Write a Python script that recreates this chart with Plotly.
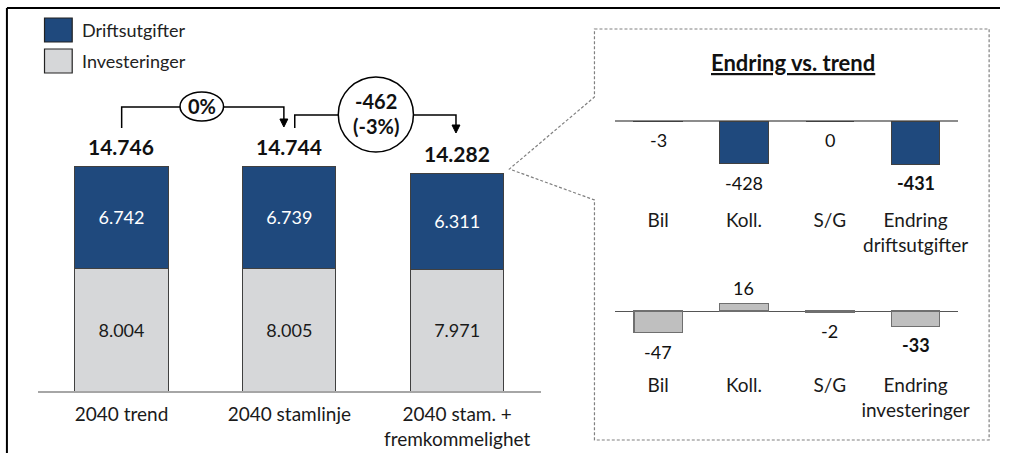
import plotly.graph_objects as go

W, H = 1011, 453

# hovedfigur
categories = ["2040 trend", "2040 stamlinje", "2040 stam. +<br>fremkommelighet"]
drift = [6742, 6739, 6311]
invest = [8004, 8005, 7971]

# endring vs. trend
drift_cats = ["Bil", "Koll.", "S/G", "Endring<br>driftsutgifter"]
drift_change = [-3, -428, 0, -431]
inv_cats = ["Bil", "Koll.", "S/G", "Endring<br>investeringer"]
inv_change = [-47, 16, -2, -33]

BLUE = "#1F497D"
LIGHT = "#D6D7D9"
MID = "#BFBFBF"
FONT = "Lato"


def px(x):
    return x / W


def py(y):
    return 1 - y / H


def nok(v):
    return f"{v:,}".replace(",", ".")


totals = [d + i for d, i in zip(drift, invest)]

fig = go.Figure()

# Stablede søyler
fig.add_trace(go.Bar(
    x=categories, y=invest, name="Investeringer",
    marker=dict(color=LIGHT, line=dict(color="#404040", width=1)),
    width=0.555, texttemplate="%{y:,.0f}", textposition="inside",
    insidetextanchor="middle", textangle=0,
    textfont=dict(family=FONT, size=18, color="#1a1a1a"),
    xaxis="x", yaxis="y"
))
fig.add_trace(go.Bar(
    x=categories, y=drift, name="Driftsutgifter",
    marker=dict(color=BLUE, line=dict(color="#404040", width=1)),
    width=0.555, texttemplate="%{y:,.0f}", textposition="inside",
    insidetextanchor="middle", textangle=0,
    textfont=dict(family=FONT, size=18, color="white"),
    xaxis="x", yaxis="y"
))

# Endringer driftsutgifter
fig.add_trace(go.Bar(
    x=drift_cats, y=drift_change,
    marker=dict(color=BLUE, line=dict(color="#404040", width=1)),
    width=0.565, xaxis="x2", yaxis="y2"
))
# Endringer investeringer
fig.add_trace(go.Bar(
    x=inv_cats, y=inv_change,
    marker=dict(color=MID, line=dict(color="#6f6f6f", width=1.3)),
    width=0.565, xaxis="x3", yaxis="y3"
))

annotations = []

# Totaler over søylene
for c, t in zip(categories, totals):
    annotations.append(dict(
        x=c, y=t, xref="x", yref="y", text=f"<b>{nok(t)}</b>",
        showarrow=False, yanchor="bottom", yshift=5,
        font=dict(family=FONT, size=21, color="#111111")
    ))

# Verdier for små søyler
for cats, vals, ax in [(drift_cats, drift_change, "2"), (inv_cats, inv_change, "3")]:
    for k, (c, v) in enumerate(zip(cats, vals)):
        txt = nok(v)
        if k == len(cats) - 1:
            txt = f"<b>{txt}</b>"
        annotations.append(dict(
            x=c, y=v, xref="x" + ax, yref="y" + ax, text=txt, showarrow=False,
            yanchor="bottom" if v > 0 else "top",
            yshift=3 if v > 0 else -6,
            font=dict(family=FONT, size=18, color="#111111")
        ))

# Sammenligning mellom søylene
pct1 = round((totals[1] - totals[0]) / totals[0] * 100)
diff2 = totals[2] - totals[1]
pct2 = round(diff2 / totals[1] * 100)

annotations += [
    dict(x=px(204), y=py(106), text=f"<b>{pct1}%</b>"),
    dict(x=px(380), y=py(101), text=f"<b>{nok(diff2)}</b>"),
    dict(x=px(380), y=py(126), text=f"<b>({pct2}%)</b>"),
]
for a in annotations[-3:]:
    a.update(xref="paper", yref="paper", showarrow=False,
             xanchor="center", yanchor="middle",
             font=dict(family=FONT, size=20, color="#111111"))

# Tittel og legend
annotations += [
    dict(x=px(802), y=py(62), xref="paper", yref="paper", showarrow=False,
         xanchor="center", yanchor="middle",
         text="<b><u>Endring vs. trend</u></b>",
         font=dict(family=FONT, size=22, color="#111111")),
    dict(x=px(81), y=py(30), xref="paper", yref="paper", showarrow=False,
         xanchor="left", yanchor="middle", text="Driftsutgifter",
         font=dict(family=FONT, size=18, color="#222222")),
    dict(x=px(81), y=py(61), xref="paper", yref="paper", showarrow=False,
         xanchor="left", yanchor="middle", text="Investeringer",
         font=dict(family=FONT, size=18, color="#222222")),
]

line_k = dict(color="black", width=1.5)


def path(points, close=False):
    s = "M " + " L ".join(f"{px(x)},{py(y)}" for x, y in points)
    return s + (" Z" if close else "")


shapes = [
    # ramme
    dict(type="line", x0=px(7), x1=px(7), y0=py(8), y1=py(453),
         line=dict(color="black", width=2)),
    dict(type="line", x0=px(7), x1=px(1011), y0=py(8), y1=py(8),
         line=dict(color="black", width=2)),
    # legend
    dict(type="rect", x0=px(45), x1=px(73), y0=py(18), y1=py(42),
         fillcolor=BLUE, line=dict(color="#222222", width=1.2)),
    dict(type="rect", x0=px(45), x1=px(73), y0=py(49), y1=py(73),
         fillcolor=LIGHT, line=dict(color="#222222", width=1.2)),
    # piler
    dict(type="path", path=path([(123, 128), (123, 107), (287, 107), (287, 120)]),
         line=line_k),
    dict(type="path", path=path([(283, 119), (291, 119), (287, 127)], True),
         fillcolor="black", line=dict(color="black", width=1)),
    dict(type="path", path=path([(298, 128), (298, 115), (461, 115), (461, 126)]),
         line=line_k),
    dict(type="path", path=path([(457, 125), (465, 125), (461, 133)], True),
         fillcolor="black", line=dict(color="black", width=1)),
    dict(type="circle", x0=px(182), x1=px(226), y0=py(92), y1=py(121),
         fillcolor="white", line=line_k),
    dict(type="circle", x0=px(342), x1=px(418), y0=py(77), y1=py(152),
         fillcolor="white", line=line_k),
    # utsnittsboks
    dict(type="path",
         path=path([(601, 29), (1000, 29), (1000, 440), (601, 440), (601, 200),
                    (515, 169), (601, 97)], True),
         line=dict(color="#808080", width=1.2, dash="3px,2px")),
]
for s in shapes:
    s.update(xref="paper", yref="paper", layer="above")

# y-skala hovedfigur: 225 px for 14.746
s_main = 225 / totals[0]
s_top = 0.1
s_bot = 0.46

fig.update_layout(
    width=W, height=H, autosize=False,
    margin=dict(l=0, r=0, t=0, b=0),
    paper_bgcolor="white", plot_bgcolor="white",
    barmode="stack", showlegend=False,
    separators=",.",
    font=dict(family=FONT, color="#1a1a1a"),
    annotations=annotations, shapes=shapes,
    xaxis=dict(domain=[px(38), px(547)], range=[-0.5, 2.5], anchor="y",
               showline=True, linecolor="#A6A6A6", linewidth=2, ticks="",
               ticklabelstandoff=5,
               tickfont=dict(family=FONT, size=19, color="#1a1a1a"),
               showgrid=False, fixedrange=True),
    yaxis=dict(domain=[py(391), py(20)], range=[0, (391 - 20) / s_main],
               visible=False, showgrid=False, zeroline=False),
    xaxis2=dict(domain=[px(622), px(969)], range=[-0.5, 3.5], anchor="y2",
                showline=False, ticks="", showgrid=False, ticklabelstandoff=7,
                tickfont=dict(family=FONT, size=19, color="#1a1a1a")),
    yaxis2=dict(domain=[py(200), py(100)],
                range=[-(200 - 121) / s_top, (121 - 100) / s_top],
                showticklabels=False, showgrid=False, showline=False,
                zeroline=True, zerolinecolor="#8C8C8C", zerolinewidth=1.5,
                anchor="x2"),
    xaxis3=dict(domain=[px(622), px(969)], range=[-0.5, 3.5], anchor="y3",
                showline=False, ticks="", showgrid=False, ticklabelstandoff=7,
                tickfont=dict(family=FONT, size=19, color="#1a1a1a")),
    yaxis3=dict(domain=[py(365), py(280)],
                range=[-(365 - 311) / s_bot, (311 - 280) / s_bot],
                showticklabels=False, showgrid=False, showline=False,
                zeroline=True, zerolinecolor="#555555", zerolinewidth=1.3,
                anchor="x3"),
)

fig.write_html(
    "out.html",
    config={"displayModeBar": False, "responsive": False},
    post_script="document.body.style.margin='0';document.body.style.overflow='hidden';",
)
